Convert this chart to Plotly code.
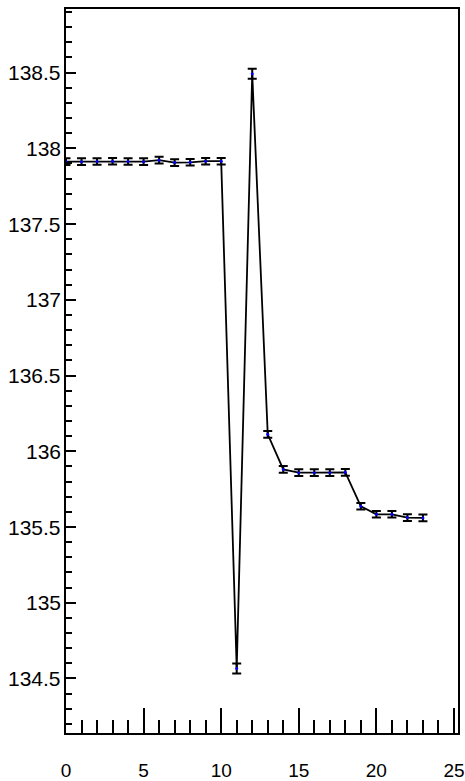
import plotly.graph_objects as go

# Measurement index and measured values with their uncertainties
runs = list(range(24))
values = [137.912, 137.912, 137.913, 137.915, 137.913, 137.912, 137.922, 137.906,
          137.908, 137.915, 137.915, 134.566, 138.493, 136.112, 135.880, 135.859,
          135.859, 135.859, 135.861, 135.637, 135.584, 135.584, 135.562, 135.560]
errors = [0.022] * 11 + [0.033, 0.033] + [0.022] * 11

x_ticks = [0, 5, 10, 15, 20, 25]
y_ticks = [134.5, 135, 135.5, 136, 136.5, 137, 137.5, 138, 138.5]
y_labels = ["134.5", "135", "135.5", "136", "136.5", "137", "137.5", "138", "138.5"]

fig = go.Figure()
fig.add_trace(go.Scatter(
    x=runs, y=values,
    mode="lines+markers",
    line=dict(color="black", width=1.8),
    marker=dict(color="blue", size=3),
    error_y=dict(type="data", array=errors, visible=True,
                 color="black", thickness=2, width=4.5),
    cliponaxis=False,
    showlegend=False,
))

xfont = dict(family="Liberation Sans, Arial, sans-serif", size=19, color="black")
yfont = dict(family="Liberation Sans, Arial, sans-serif", size=21, color="black")

# y tick labels placed tight against the left axis line
for v, lab in zip(y_ticks, y_labels):
    fig.add_annotation(x=0, xref="paper", y=v, yref="y", text=lab,
                       showarrow=False, xanchor="right", yanchor="middle",
                       xshift=-3, font=yfont)

fig.update_layout(
    width=465, height=781,
    margin=dict(l=66, r=7, t=9, b=48),
    paper_bgcolor="white", plot_bgcolor="white",
    font=xfont,
    xaxis=dict(
        range=[0, 25.26], tickvals=x_ticks, ticktext=[str(v) for v in x_ticks],
        ticks="inside", ticklen=25, tickwidth=2, tickcolor="black",
        minor=dict(dtick=1, tick0=0, ticks="inside", ticklen=13,
                   tickwidth=2, tickcolor="black", showgrid=False),
        showline=True, linecolor="black", linewidth=2, mirror=True,
        showgrid=False, zeroline=False, ticklabelstandoff=19,
        ticklabeloverflow="allow",
        tickfont=xfont, automargin=False,
    ),
    yaxis=dict(
        range=[134.14, 138.92], tickvals=y_ticks, showticklabels=False,
        ticks="inside", ticklen=10, tickwidth=2, tickcolor="black",
        minor=dict(dtick=0.1, tick0=134.5, ticks="inside", ticklen=6,
                   tickwidth=2, tickcolor="black", showgrid=False),
        showline=True, linecolor="black", linewidth=2, mirror=True,
        showgrid=False, zeroline=False, automargin=False,
    ),
)

fig.write_html("out.html")
